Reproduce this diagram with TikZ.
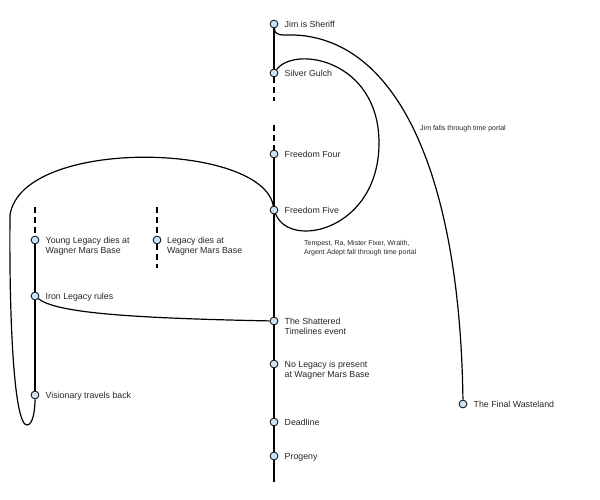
\documentclass[tikz,border=0pt]{standalone}
\usepackage{fontspec}
\setmainfont{Liberation Sans}
\usetikzlibrary{calc}
\definecolor{evfill}{HTML}{CFE2F3}
\tikzset{
    event/.style={circle, draw, fill=evfill, line width=0.8pt, minimum size=7.8pt, inner sep=0pt},
    evtext/.style={anchor=north west, align=left, inner sep=0pt, text=black!85, font=\fontsize{8.8}{10.5}\selectfont},
    note/.style={anchor=north west, align=left, inner sep=0pt, text=black!85, font=\fontsize{7}{9}\selectfont},
    thread/.style={draw, line width=1.2pt},
    gap/.style={thread, dash pattern=on 6pt off 4pt}
}

\begin{document}
\begin{tikzpicture}[x=1pt, y=-1pt]
\useasboundingbox (0,0) rectangle (600,500);

% main timeline
\node[event] (jim) at (274,24) {};
\node[event] (sg) at (274,73) {};
\node[event] (f4) at (274,154) {};
\node[event] (f5) at (274,210) {};
\node[event] (st) at (274,321) {};
\node[event] (nl) at (274,364) {};
\node[event] (dl) at (274,422) {};
\node[event] (pg) at (274,456) {};
% legacy timelines
\node[event] (yl) at (35,240) {};
\node[event] (il) at (35,296) {};
\node[event] (vt) at (35,395) {};
\node[event] (ld) at (157,240) {};
\node[event] (fw) at (463,404) {};

\node[evtext] (jim-t) at ($(jim)+(10.5,-3.2)$) {Jim is Sheriff};
\node[evtext] (sg-t) at ($(sg)+(10.5,-3.2)$) {Silver Gulch};
\node[evtext] (f4-t) at ($(f4)+(10.5,-3.2)$) {Freedom Four};
\node[evtext] (f5-t) at ($(f5)+(10.5,-3.2)$) {Freedom Five};
\node[evtext] (st-t) at ($(st)+(10.5,-3.2)$) {The Shattered\\Timelines event};
\node[evtext] (nl-t) at ($(nl)+(10.5,-3.2)$) {No Legacy is present\\at Wagner Mars Base};
\node[evtext] (dl-t) at ($(dl)+(10.5,-3.2)$) {Deadline};
\node[evtext] (pg-t) at ($(pg)+(10.5,-3.2)$) {Progeny};
\node[evtext] (yl-t) at ($(yl)+(10.5,-3.2)$) {Young Legacy dies at\\Wagner Mars Base};
\node[evtext] (il-t) at ($(il)+(10.5,-3.2)$) {Iron Legacy rules};
\node[evtext] (vt-t) at ($(vt)+(10.5,-3.2)$) {Visionary travels back};
\node[evtext] (ld-t) at ($(ld)+(10,-3.2)$) {Legacy dies at\\Wagner Mars Base};
\node[evtext] (fw-t) at ($(fw)+(10.5,-3.2)$) {The Final Wasteland};

\node[note] (jim-note) at (420,125) {Jim falls through time portal};
\node[note] (portal-note) at (304,240.5) {Tempest, Ra, Mister Fixer, Wraith,\\Argent Adept fall through time portal};

\coordinate (sg-end) at (274,101);
\coordinate (f4-start) at (274,125);
\coordinate (bottom) at (274,482);
\coordinate (yl-start) at (35,207);
\coordinate (ld-start) at (157,207);
\coordinate (ld-end) at (157,268);

\draw[thread] (jim) -- (sg);
\draw[gap] (sg) -- (sg-end);
\draw[gap] (f4-start) -- (f4);
\draw[thread] (f4) -- (f5) (f5) -- (st) (st) -- (nl) (nl) -- (dl) (dl) -- (pg) (pg) -- (bottom);

\draw[gap] (yl-start) -- (yl);
\draw[thread] (yl) -- (il) (il) -- (vt);
\draw[gap] (ld-start) -- (ld) (ld) -- (ld-end);

% time portals
\draw[thread] (jim) .. controls (275,36) and (280,35) .. (295,35)
    .. controls (400,40) and (460,180) .. (fw);
\draw[thread] (sg) .. controls (295,45) and (379,60) .. (379,143)
    .. controls (379,230) and (290,250) .. (f5);
\draw[thread] (f5) .. controls (262,142) and (22,137) .. (10,215)
    .. controls (9,320) and (14,425) .. (27,425)
    .. controls (33,425) and (35,410) .. (vt);
\draw[thread] (il) .. controls (55,312) and (120,318) .. (st);

\end{tikzpicture}
\end{document}
